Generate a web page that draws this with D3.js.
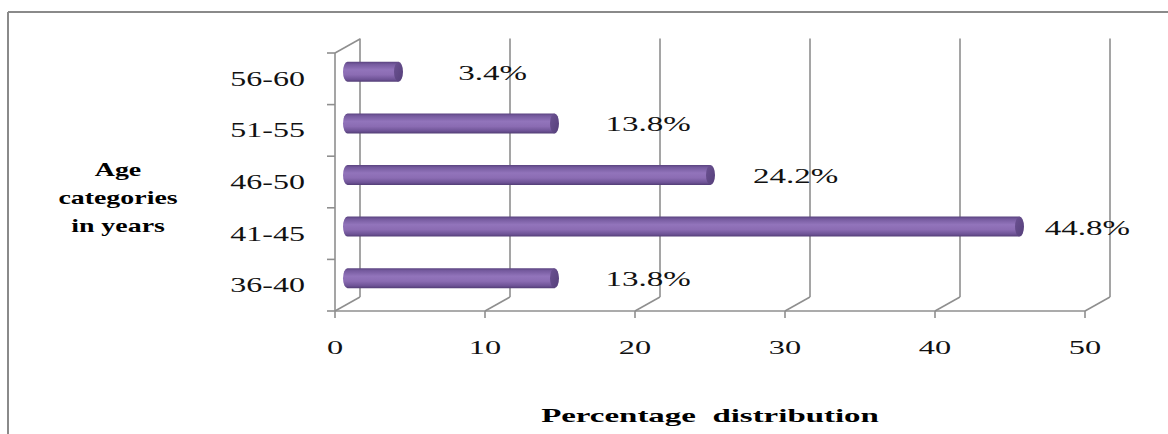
<!DOCTYPE html>
<html>
<head>
<meta charset="utf-8">
<script src="https://cdn.jsdelivr.net/npm/d3@7"></script>
<style>
  html, body { margin: 0; padding: 0; background: #fff; }
  svg { display: block; }
</style>
</head>
<body>
<svg id="chart" width="1168" height="434"></svg>
<script>
// ---- data ----
const categories = ["36-40", "41-45", "46-50", "51-55", "56-60"];
const values = [13.8, 44.8, 24.2, 13.8, 3.4];
const valueLabels = ["13.8%", "44.8%", "24.2%", "13.8%", "3.4%"];
const xTicks = [0, 10, 20, 30, 40, 50];
const yTitleLines = ["Age", "categories", "in years"];
const xTitle = "Percentage  distribution";

(function () {
// ---- layout ----
const W = 1168, H = 434;
const pLeft = 335, pRight = 1085, pTop = 53, pBottom = 311;
const dx = 25, dy = -14;          // depth offset of 3D back wall
const barH = 20, capRx = 4.5;
const grid = "#8f8f8f";
const FONT = "'Liberation Serif', 'Times New Roman', 'DejaVu Serif', serif";

const svg = d3.select("#chart").attr("font-family", FONT);
const defs = svg.append("defs");

const g1 = defs.append("linearGradient").attr("id", "cyl").attr("x1", 0).attr("y1", 0).attr("x2", 0).attr("y2", 1);
[[0, "#5a4380"], [0.12, "#755a9e"], [0.4, "#9274bb"], [0.65, "#8b6cb3"], [0.88, "#6e5396"], [1, "#523d75"]]
  .forEach(([o, c]) => g1.append("stop").attr("offset", o).attr("stop-color", c));
const g2 = defs.append("linearGradient").attr("id", "cap").attr("x1", 0).attr("y1", 0).attr("x2", 1).attr("y2", 1);
[[0, "#6c5292"], [1, "#553f7a"]].forEach(([o, c]) => g2.append("stop").attr("offset", o).attr("stop-color", c));

// frame (top + left visible)
svg.append("line").attr("x1", 8).attr("x2", W).attr("y1", 12).attr("y2", 12).attr("stroke", "#8a8a8a").attr("stroke-width", 2);
svg.append("line").attr("x1", 8).attr("x2", 8).attr("y1", 12).attr("y2", H).attr("stroke", "#8a8a8a").attr("stroke-width", 2);

const x = d3.scaleLinear().domain([0, 50]).range([pLeft, pRight]);
const y = d3.scaleBand().domain(categories).range([pBottom, pTop]).paddingInner(0).paddingOuter(0);
// labels sit in perspective, further right for short bars
const xLabel = d3.scaleLinear().domain([0, 50]).range([410, 1118.5]);

// back-wall gridlines and floor diagonals
const gridG = svg.append("g").attr("stroke", grid).attr("stroke-width", 1.6).attr("fill", "none");
xTicks.forEach(t => {
  gridG.append("line").attr("x1", x(t) + dx).attr("x2", x(t) + dx).attr("y1", pBottom + dy).attr("y2", pTop + dy - 0.5);
  gridG.append("line").attr("x1", x(t)).attr("x2", x(t) + dx).attr("y1", pBottom).attr("y2", pBottom + dy);
  gridG.append("line").attr("x1", x(t)).attr("x2", x(t)).attr("y1", pBottom).attr("y2", pBottom + 7);
});
// front axes
gridG.append("line").attr("x1", pLeft).attr("x2", pRight).attr("y1", pBottom).attr("y2", pBottom);
gridG.append("line").attr("x1", pLeft).attr("x2", pLeft).attr("y1", pTop).attr("y2", pBottom);
gridG.append("line").attr("x1", pLeft).attr("x2", pLeft + dx).attr("y1", pTop).attr("y2", pTop + dy);
// y ticks at band boundaries
const bounds = categories.map(c => y(c)).concat([pBottom]);
bounds.forEach(b => gridG.append("line").attr("x1", pLeft - 8).attr("x2", pLeft).attr("y1", b).attr("y2", b));

// bars (cylinders)
const barsG = svg.append("g");
categories.forEach((c, i) => {
  const cy = y(c) + y.bandwidth() / 2 + dy / 2;
  const x0 = x(0) + dx / 2, x1 = x(values[i]) + dx / 2;
  const r = barH / 2;
  const p = `M${x1},${cy - r} L${x0},${cy - r} A${capRx},${r} 0 0 0 ${x0},${cy + r} L${x1},${cy + r} Z`;
  barsG.append("path").attr("d", p).attr("fill", "url(#cyl)");
  barsG.append("ellipse").attr("cx", x1).attr("cy", cy).attr("rx", capRx).attr("ry", r).attr("fill", "url(#cap)");
});

// value labels
categories.forEach((c, i) => {
  const cy = y(c) + y.bandwidth() / 2 + dy / 2;
  svg.append("text")
    .attr("transform", `translate(${xLabel(values[i])},${cy + 8}) scale(1.5,1)`)
    .attr("font-family", FONT)
    .attr("font-size", 22)
    .attr("fill", "#111")
    .text(valueLabels[i]);
});

// category labels
categories.forEach(c => {
  svg.append("text")
    .attr("transform", `translate(305,${y(c) + y.bandwidth() / 2 + 7}) scale(1.6,1)`)
    .attr("text-anchor", "end")
    .attr("font-family", FONT)
    .attr("font-size", 20)
    .attr("fill", "#111")
    .text(c);
});

// x tick labels
xTicks.forEach(t => {
  svg.append("text")
    .attr("transform", `translate(${x(t)},354) scale(1.75,1)`)
    .attr("text-anchor", "middle")
    .attr("font-family", FONT)
    .attr("font-size", 18.5)
    .attr("fill", "#111")
    .text(t);
});

// axis titles
svg.append("text")
  .attr("transform", `translate(710,422) scale(1.83,1)`)
  .attr("text-anchor", "middle")
  .attr("font-family", FONT)
  .attr("font-size", 18)
  .attr("font-weight", "bold")
  .attr("fill", "#000")
  .style("white-space", "pre")
  .text(xTitle);

yTitleLines.forEach((l, i) => {
  svg.append("text")
    .attr("transform", `translate(118,${176 + i * 28}) scale(1.55,1)`)
    .attr("text-anchor", "middle")
    .attr("font-family", FONT)
    .attr("font-size", 18)
    .attr("font-weight", "bold")
    .attr("fill", "#000")
    .text(l);
});
})();
</script>
</body>
</html>
